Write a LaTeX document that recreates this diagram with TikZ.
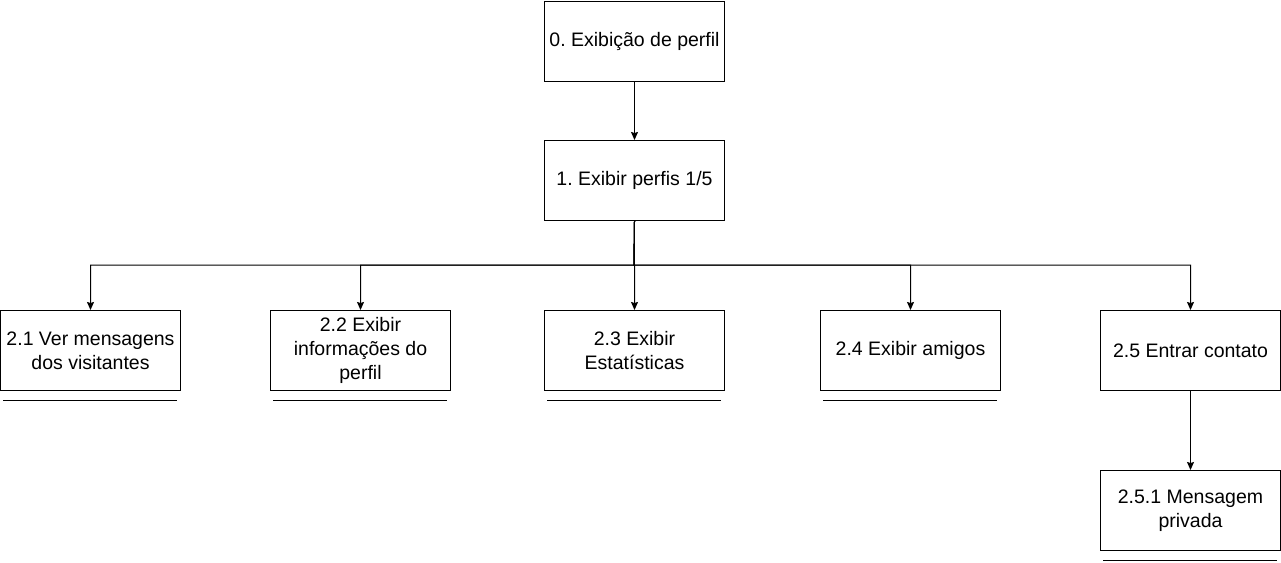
\documentclass[tikz,border=0pt]{standalone}
\usepackage{fontspec}
\setmainfont{Liberation Sans}
\usetikzlibrary{arrows.meta}
\frenchspacing
\begin{document}
\begin{tikzpicture}[x=1pt,y=-1pt,
  box/.style={draw,line width=1pt,minimum width=180pt,minimum height=80pt,anchor=north west,align=center,inner sep=0pt,font=\fontsize{19.5}{24}\selectfont},
  conn/.style={line width=1pt,-{Stealth[length=8pt,width=7pt,inset=1pt]}},
  uline/.style={line width=1pt}]
\useasboundingbox (0,0) rectangle (1281,562);
\node[box] (n0) at (544,1) {0. Exibição de perfil};
\node[box] (n1) at (544,140) {1. Exibir perfis 1/5};
\node[box] (n21) at (0,310) {2.1 Ver mensagens\\dos visitantes};
\node[box] (n22) at (270,310) {2.2 Exibir\\informações do\\perfil};
\node[box] (n23) at (544,310) {2.3 Exibir\\Estatísticas};
\node[box] (n24) at (820,310) {2.4 Exibir amigos};
\node[box] (n25) at (1100,310) {2.5 Entrar contato};
\node[box] (n251) at (1100,470) {2.5.1 Mensagem\\privada};
\coordinate (j) at (634,265);
\draw[conn] (n0) -- (n1);
\foreach \c in {n21,n22,n23,n24,n25}{
  \draw[conn] (n1.south) -- (j) -| (\c.north);
}
\draw[conn] (n25) -- (n251);
\draw[uline] (3,400) -- (177,400);
\draw[uline] (273,400) -- (447,400);
\draw[uline] (547,400) -- (721,400);
\draw[uline] (823,400) -- (997,400);
\draw[uline] (1103,560) -- (1277,560);
\end{tikzpicture}
\end{document}
